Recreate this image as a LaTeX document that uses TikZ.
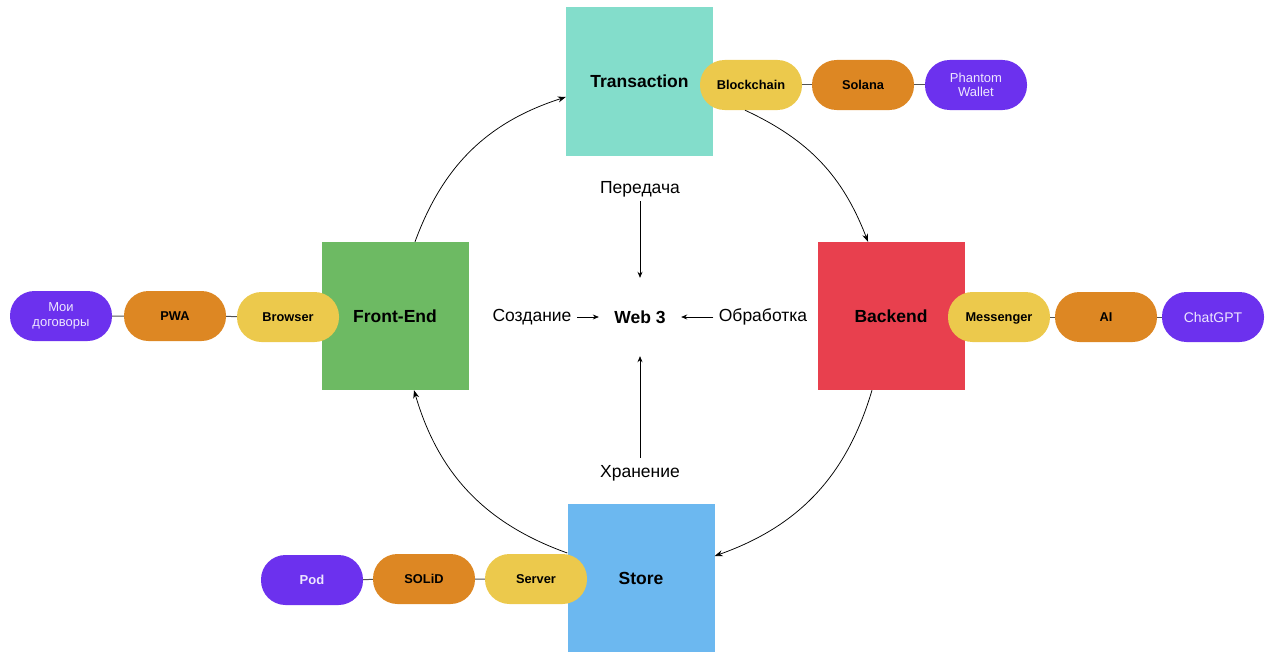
\documentclass[tikz,border=0pt]{standalone}
\usepackage{fontspec}
\setmainfont{Liberation Sans}
\usetikzlibrary{arrows.meta}
\definecolor{txfill}{HTML}{83DDCB}
\definecolor{fefill}{HTML}{6DBA63}
\definecolor{befill}{HTML}{E8404E}
\definecolor{stfill}{HTML}{6CB8F0}
\definecolor{chipyel}{HTML}{ECC94C}
\definecolor{chipora}{HTML}{DD8723}
\definecolor{chippur}{HTML}{6C31EE}
\definecolor{chiptxt}{HTML}{EDE6FF}

\begin{document}
\begin{tikzpicture}[x=1pt,y=1pt,
block/.style={minimum width=147pt,minimum height=148pt,inner sep=0pt,font=\fontsize{17.5}{20}\selectfont\bfseries},
chip/.style={rounded corners=24.5pt,minimum width=102pt,minimum height=50pt,inner sep=0pt,align=center,font=\fontsize{12.8}{14}\selectfont\bfseries},
yel/.style={chip,fill=chipyel,text height=10.5pt,text depth=1.5pt},
ora/.style={chip,fill=chipora,text height=10.5pt,text depth=1.5pt},
pur/.style={chip,fill=chippur,text=chiptxt,font=\fontsize{13}{14.5}\selectfont},
word/.style={font=\fontsize{17.5}{20}\selectfont},
link/.style={gray!65!black,line width=1pt},
arr/.style={-{Stealth[length=6pt,width=5pt]},line width=0.7pt},
ring/.style={-{Stealth[length=8pt,width=6pt]},line width=0.75pt}]
\useasboundingbox (0,0) rectangle (1280,-661);
% four blocks
\node[block,fill=txfill] (tx) at (639.5,-81.5) {Transaction};
\node[block,fill=fefill] (fe) at (395,-316) {Front-End};
\node[block,fill=befill] (be) at (891,-316) {Backend};
\node[block,fill=stfill] (st) at (641,-578) {Store};
% chips
\node[yel] (bc) at (751,-85) {Blockchain};
\node[ora] (sol) at (863,-85) {Solana};
\node[pur] (ph) at (976,-85) {Phantom\\Wallet};
\node[pur] (moi) at (61,-316) {Мои\\договоры};
\node[ora] (pwa) at (175,-316) {PWA};
\node[yel] (br) at (288,-317) {Browser};
\node[yel] (ms) at (999,-317) {Messenger};
\node[ora] (ai) at (1106,-317) {AI};
\node[pur,font=\fontsize{14}{16}\selectfont] (gpt) at (1213,-317) {ChatGPT};
\node[pur,font=\fontsize{13}{14}\selectfont\bfseries] (pod) at (312,-580) {Pod};
\node[ora] (sld) at (424,-579) {SOLiD};
\node[yel] (srv) at (536,-579) {Server};
\draw[link] (bc)--(sol) (sol)--(ph);
\draw[link] (moi)--(pwa) (pwa)--(br);
\draw[link] (ms)--(ai) (ai)--(gpt);
\draw[link] (pod)--(sld) (sld)--(srv);
% centre
\node[minimum width=82pt,minimum height=78pt,font=\fontsize{17.5}{20}\selectfont\bfseries] (web) at (640,-317) {Web 3};
\node[word] (ped) at (640,-189) {Передача};
\node[word] (sozd) at (532,-317) {Создание};
\node[word] (obr) at (763,-317) {Обработка};
\node[word] (hr) at (640,-473) {Хранение};
\draw[arr,shorten <=1pt] (ped)--(web);
\draw[arr,shorten <=2pt] (sozd)--(web);
\draw[arr,shorten <=2pt] (obr)--(web);
\draw[arr,shorten <=4pt] (hr)--(web);
% ring
\draw[ring] ([xshift=20pt]fe.north) to[bend left=26] ([yshift=-15.5pt]tx.west);
\draw[ring] ([xshift=-6pt]bc.south) to[bend left=22] ([xshift=-23pt]be.north);
\draw[ring] ([xshift=-19pt]be.south) to[bend left=27] ([yshift=22pt]st.east);
\draw[ring] ([yshift=25pt]st.west) to[bend left=27] ([xshift=19pt]fe.south);
\end{tikzpicture}
\end{document}
